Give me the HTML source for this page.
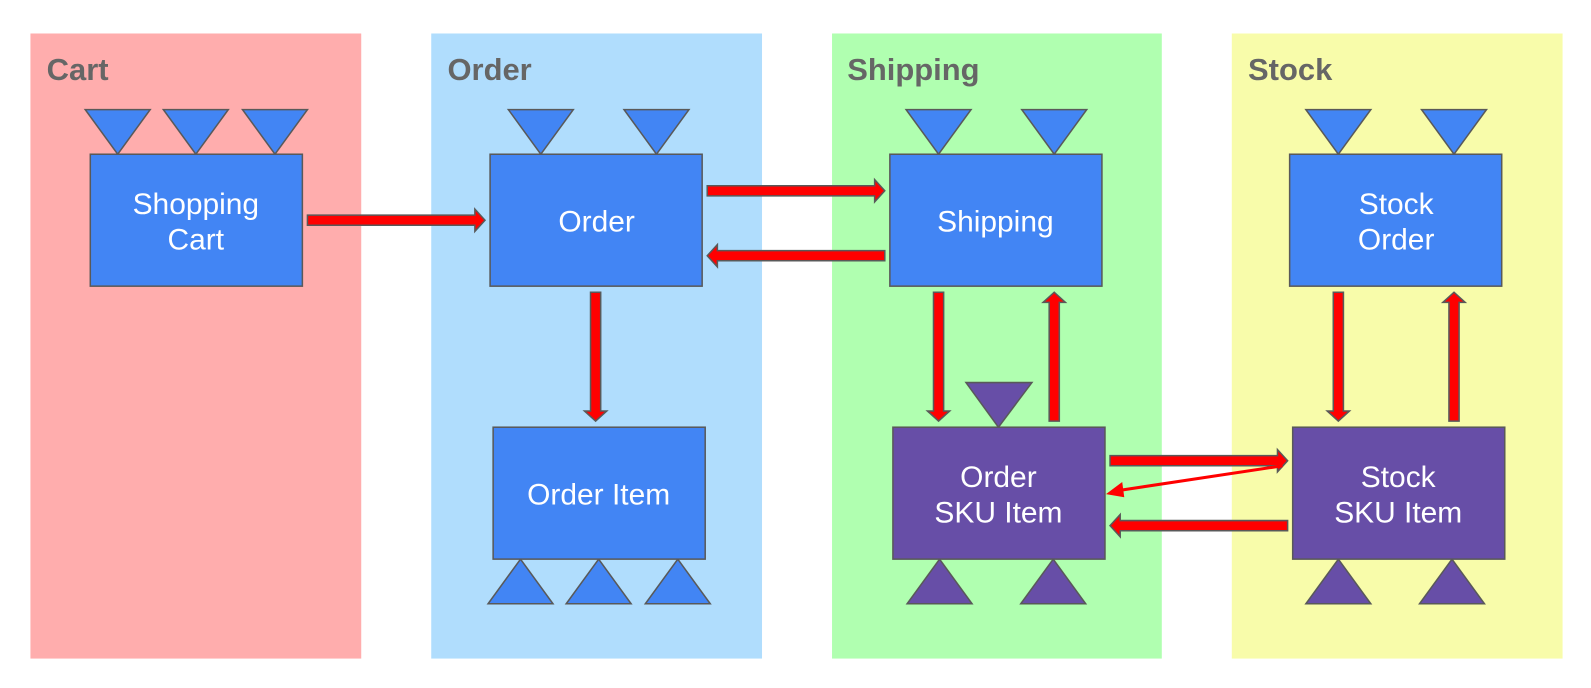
<!DOCTYPE html>
<html><head><meta charset="utf-8"><style>body{margin:0;background:#fff}svg{display:block}</style></head><body>
<svg width="1591" height="688" viewBox="0 0 1568 678" preserveAspectRatio="none" xmlns="http://www.w3.org/2000/svg" font-family="Liberation Sans, sans-serif">
<rect x="30" y="33" width="326" height="616" fill="#ffadad"/>
<rect x="425" y="33" width="326" height="616" fill="#b0ddfd"/>
<rect x="820" y="33" width="325" height="616" fill="#b0ffb0"/>
<rect x="1214" y="33" width="326" height="616" fill="#f8fcaa"/>
<g font-size="30.5" font-weight="bold" fill="#666">
<text x="46" y="79">Cart</text><text x="441" y="79">Order</text><text x="835" y="79">Shipping</text><text x="1230" y="79">Stock</text>
</g>
<g stroke="#595959" stroke-width="1.5">
<g fill="#4285f4">
<polygon points="84,108 148,108 116,152"/><polygon points="161,108 225,108 193,152"/><polygon points="239,108 303,108 271,152"/>
<polygon points="501,108 565,108 533,152"/><polygon points="615,108 679,108 647,152"/>
<polygon points="893,108 957,108 925,152"/><polygon points="1007,108 1071,108 1039,152"/>
<polygon points="1287,108 1351,108 1319,152"/><polygon points="1401,108 1465,108 1433,152"/>
<polygon points="481,595 545,595 513,551"/><polygon points="558,595 622,595 590,551"/><polygon points="636,595 700,595 668,551"/>
<rect x="89" y="152" width="209" height="130"/><rect x="483" y="152" width="209" height="130"/>
<rect x="877" y="152" width="209" height="130"/><rect x="1271" y="152" width="209" height="130"/>
<rect x="486" y="421" width="209" height="130"/>
</g>
<g fill="#674ea7">
<polygon points="952,377 1017,377 984,421"/>
<polygon points="894,595 958,595 926,551"/><polygon points="1006,595 1070,595 1038,551"/>
<polygon points="1287,595 1351,595 1319,551"/><polygon points="1399,595 1463,595 1431,551"/>
<rect x="880" y="421" width="209" height="130"/><rect x="1274" y="421" width="209" height="130"/>
</g>
<g fill="#ff0000">
<polygon points="303,212 468,212 468,206 478,217 468,228 468,222 303,222"/>
<polygon points="697,183 862,183 862,177 872,188 862,199 862,193 697,193"/>
<polygon points="872,247 707,247 707,241 697,252 707,263 707,257 872,257"/>
<polygon points="582,288 592,288 592,405 598,405 587,415 576,405 582,405"/>
<polygon points="920,288 930,288 930,405 936,405 925,415 914,405 920,405"/>
<polygon points="1034,415 1044,415 1044,298 1050,298 1039,288 1028,298 1034,298"/>
<polygon points="1314,288 1324,288 1324,405 1330,405 1319,415 1308,405 1314,405"/>
<polygon points="1428,415 1438,415 1438,298 1444,298 1433,288 1422,298 1428,298"/>
<polygon points="1094,449 1259,449 1259,443 1269,454 1259,465 1259,459 1094,459"/>
<polygon points="1269,513 1104,513 1104,507 1094,518 1104,529 1104,523 1269,523"/>
</g>
</g>
<line x1="1264" y1="459" x2="1105" y2="483" stroke="#ff0000" stroke-width="3"/>
<polygon points="1090,487 1106,475 1108,490" fill="#ff0000"/>
<g font-size="29.5" fill="#fff" text-anchor="middle">
<text x="193" y="211">Shopping</text><text x="193" y="246">Cart</text>
<text x="588" y="228">Order</text>
<text x="981" y="228">Shipping</text>
<text x="1376" y="211">Stock</text><text x="1376" y="246">Order</text>
<text x="590" y="497">Order Item</text>
<text x="984" y="480">Order</text><text x="984" y="515">SKU Item</text>
<text x="1378" y="480">Stock</text><text x="1378" y="515">SKU Item</text>
</g>
</svg>
</body></html>
